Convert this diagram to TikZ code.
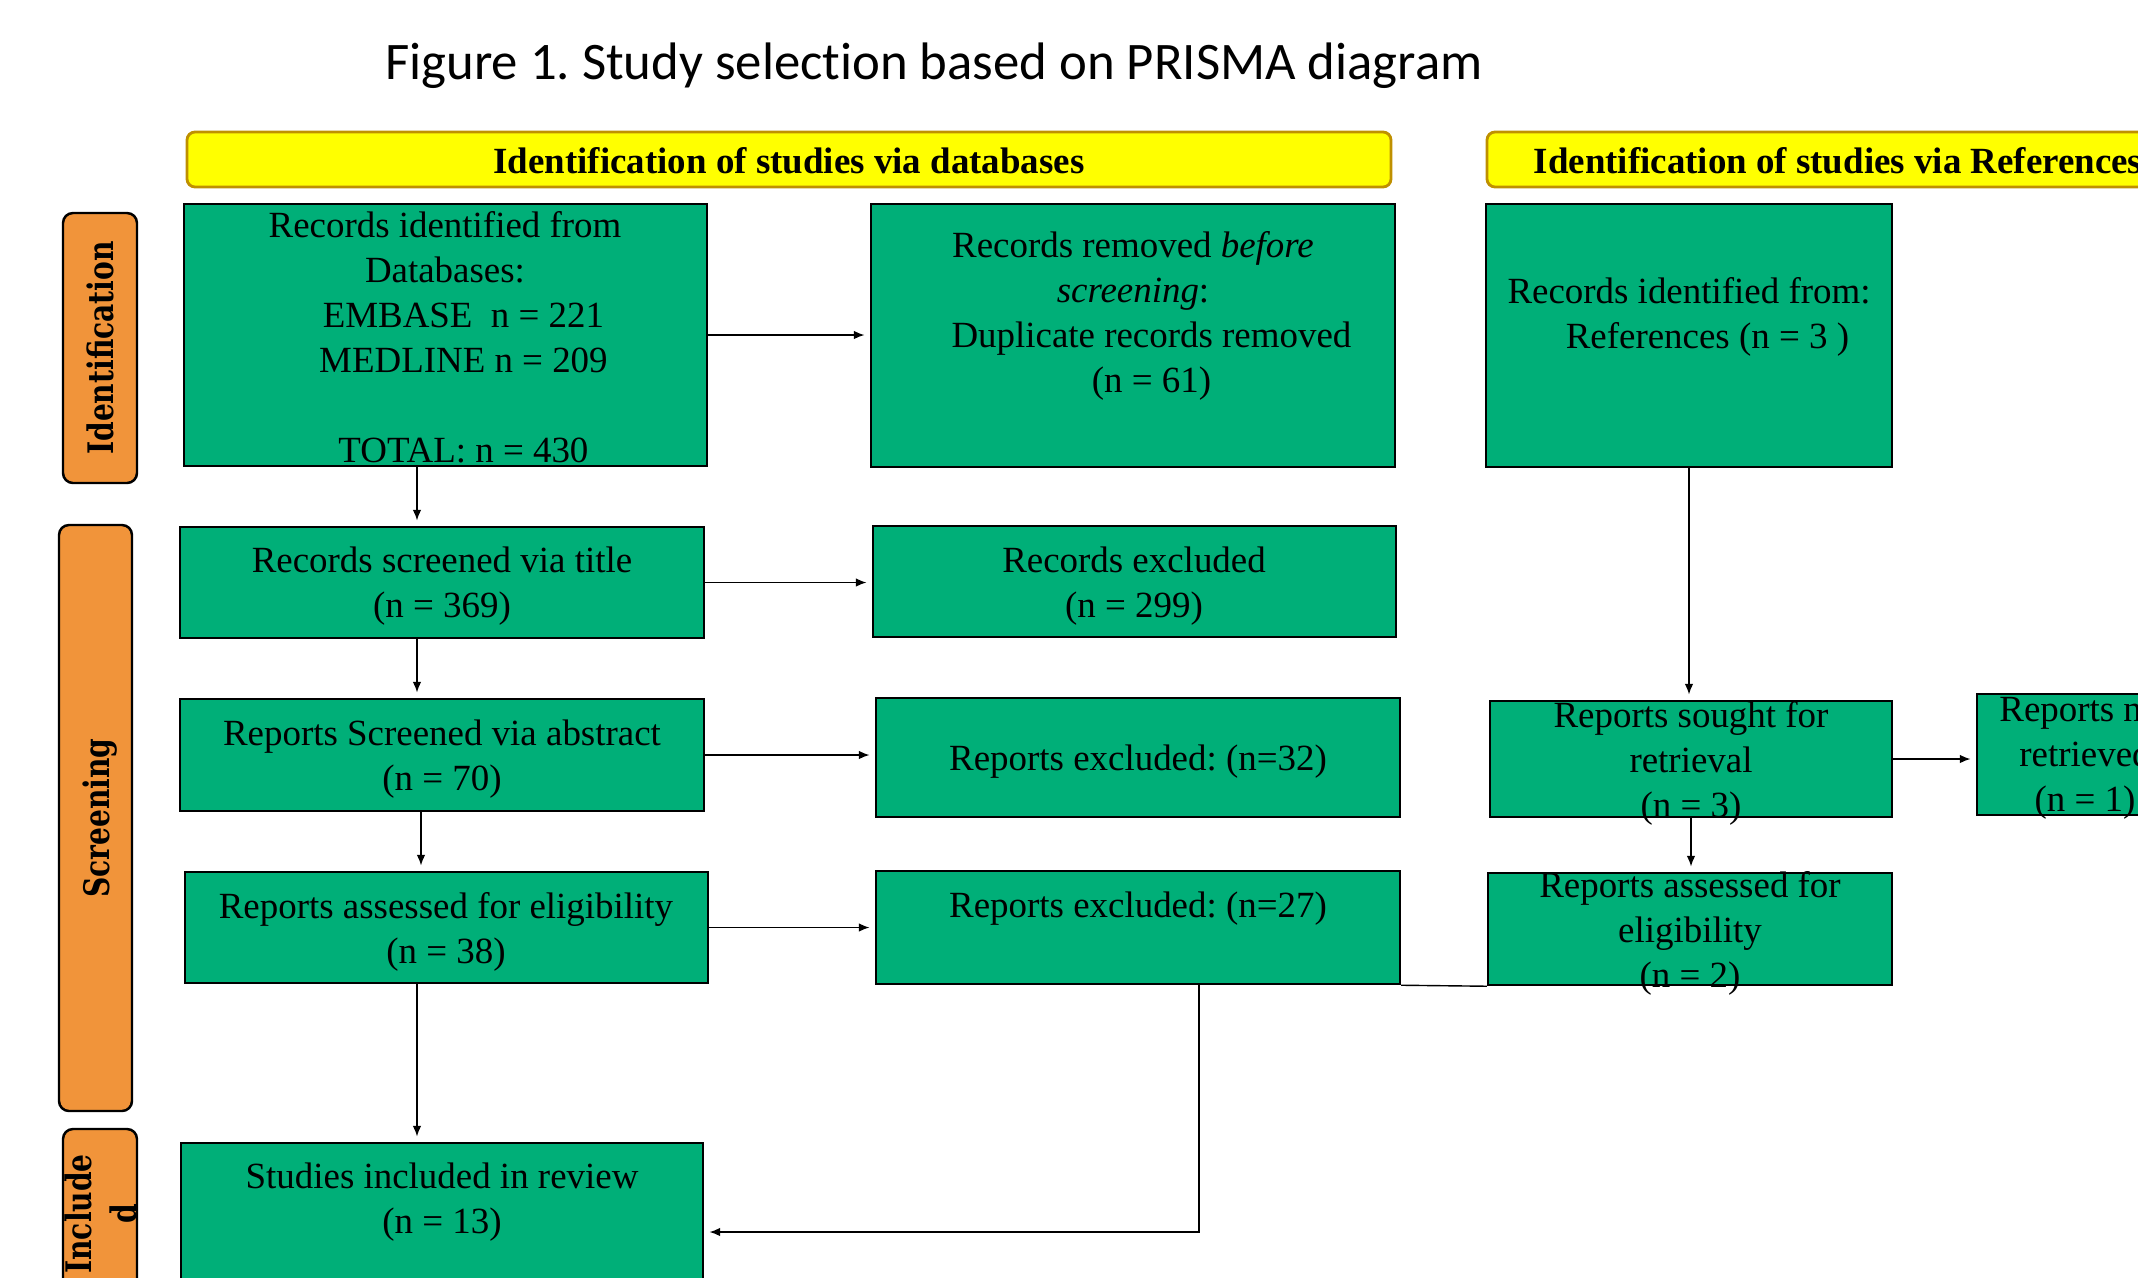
\documentclass[tikz,border=0pt]{standalone}
\usepackage{fontspec}
\setmainfont{Liberation Serif}
\newfontfamily\titlefont{Carlito}[Ligatures=NoCommon]
\newfontfamily\sidefont{DejaVu Serif}[FakeStretch=0.8]
\usetikzlibrary{calc}
\usetikzlibrary{arrows.meta}
\usetikzlibrary{fit}
\frenchspacing

\definecolor{prismagreen}{RGB}{0,175,120}
\definecolor{baryellow}{RGB}{255,255,0}
\definecolor{bargold}{RGB}{191,144,0}
\definecolor{sideorange}{RGB}{241,148,58}

\begin{document}
\begin{tikzpicture}[x=0.01cm, y=-0.01cm,
    gbox/.style={draw=black, line width=0.7pt, fill=prismagreen, inner sep=0pt},
    btxt/.style={anchor=north, align=center, inner sep=0pt, font=\fontsize{10.5}{12.8}\selectfont},
    hbar/.style={draw=bargold, line width=0.8pt, fill=baryellow, rounded corners=0.08cm, inner sep=0pt},
    htxt/.style={anchor=base, inner sep=0pt, font=\fontsize{10.5}{12.8}\selectfont\bfseries},
    sbox/.style={draw=black, line width=0.7pt, fill=sideorange, rounded corners=0.1cm, inner sep=0pt},
    stxt/.style={rotate=90, align=center, inner sep=0pt, font=\sidefont\fontsize{10}{12.8}\selectfont\bfseries},
    arr/.style={thin, -{Latex[length=3pt,width=2.4pt]}, shorten >=1.5pt}
]
\useasboundingbox (0,0) rectangle (2138,1278);
\clip (0,0) rectangle (2138,1278);

\newcommand{\pbox}[4]{
    \node[#4, fit={(#2) (#3)}] (#1) {};
}

% title
\node[anchor=base, inner sep=0pt, font=\titlefont\fontsize{15}{18}\selectfont] (title) at (934,79) {Figure 1. Study selection based on PRISMA diagram};

% header bars
\pbox{hdb}{187,132}{1391,187}{hbar}
\pbox{hrf}{1487,132}{2189,187}{hbar}
\node[htxt] (hdbt) at (789,173) {Identification of studies via databases};
\node[htxt] (hrft) at (1838,173) {Identification of studies via References};

% side labels
\pbox{sid}{63,213}{137,483}{sbox}
\pbox{ssc}{59,525}{132,1111}{sbox}
\pbox{sin}{63,1129}{137,1300}{sbox}
\node[stxt] (sidt) at (100,348) {Identification};
\node[stxt] (ssct) at (100,818) {Screening};
\node[stxt] (sint) at (101,1214) {Include\\d};

% databases column
\pbox{b1}{184,204}{707,466}{gbox}
\pbox{b2}{180,527}{704,638}{gbox}
\pbox{b3}{180,699}{704,811}{gbox}
\pbox{b4}{185,872}{708,983}{gbox}
\pbox{b5}{181,1143}{703,1320}{gbox}

% removed / excluded column
\pbox{c1}{871,204}{1395,467}{gbox}
\pbox{c2}{873,526}{1396,637}{gbox}
\pbox{c3}{876,698}{1400,817}{gbox}
\pbox{c4}{876,871}{1400,984}{gbox}

% references column
\pbox{d1}{1486,204}{1892,467}{gbox}
\pbox{d2}{1490,701}{1892,817}{gbox}
\pbox{d3}{1488,873}{1892,985}{gbox}
\pbox{e1}{1977,694}{2195,815}{gbox}

\node[btxt] (b1t) at (445,211) {Records identified from\\Databases:\\\hspace*{1em}EMBASE\ \ n = 221\\\hspace*{1em}MEDLINE n = 209\\[12.8pt]\hspace*{1em}TOTAL: n = 430};
\node[btxt] (b2t) at (442,546) {Records screened via title\\(n = 369)};
\node[btxt] (b3t) at (442,719) {Reports Screened via abstract\\(n = 70)};
\node[btxt] (b4t) at (446,892) {Reports assessed for eligibility\\(n = 38)};
\node[btxt] (b5t) at (442,1162) {Studies included in review\\(n = 13)};

\node[btxt] (c1t) at (1133,231) {Records removed \textit{before}\\\textit{screening}:\\\hspace*{1em}Duplicate records removed\\\hspace*{1em}(n = 61)};
\node[btxt] (c2t) at (1134,546) {Records excluded\\(n = 299)};
\node[btxt] (c3t) at (1138,744) {Reports excluded: (n=32)};
\node[btxt] (c4t) at (1138,891) {Reports excluded: (n=27)};

\node[btxt] (d1t) at (1689,277) {Records identified from:\\\hspace*{1em}References (n = 3 )};
\node[btxt] (d2t) at (1691,701) {Reports sought for\\retrieval\\(n = 3)};
\node[btxt] (d3t) at (1690,871) {Reports assessed for\\eligibility\\(n = 2)};
\node[btxt] (e1t) at (2085,697) {Reports not\\retrieved\\(n = 1)};

% connectors
\coordinate (spine) at (417,0);
\coordinate (spineb) at (421,0);
\coordinate (drop) at (1199,1232);

\draw[arr] (b1.east) -- (b1.east -| c1.west);
\draw[arr] (b1.south -| spine) -- (b2.north -| spine);
\draw[arr] (b2.east) -- (b2.east -| c2.west);
\draw[arr] (b2.south -| spine) -- (b3.north -| spine);
\draw[arr] (b3.east) -- (b3.east -| c3.west);
\draw[arr] (b3.south -| spineb) -- (b4.north -| spineb);
\draw[arr] (b4.east) -- (b4.east -| c4.west);
\draw[arr] (b4.south -| spine) -- (b5.north -| spine);
\draw[arr] (c4.south -| drop) -- (drop) -- (b5.east |- drop);
\draw[thin] (c4.south east) -- (d3.south west);
\draw[arr] (d1.south) -- (d1.south |- d2.north);
\draw[arr] (d2.south) -- (d2.south |- d3.north);
\draw[arr] (d2.east) -- (d2.east -| e1.west);

\end{tikzpicture}
\end{document}
